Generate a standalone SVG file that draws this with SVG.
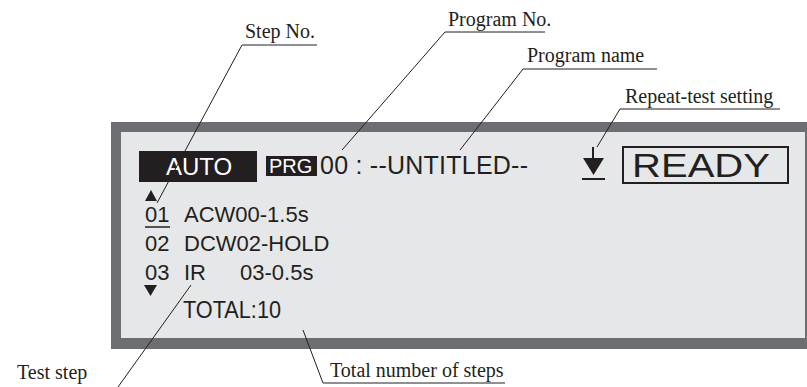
<svg xmlns="http://www.w3.org/2000/svg" width="807" height="387" viewBox="0 0 807 387">
<style>
.lbl{font-family:"Liberation Serif","Times New Roman",serif;font-size:20px;fill:#231f20}
.lcd{font-family:"Liberation Sans",Arial,sans-serif;fill:#231f20}
.inv{font-family:"Liberation Sans",Arial,sans-serif;fill:#ffffff}
.ld{stroke:#231f20;stroke-width:1;fill:none}
</style>
<rect width="807" height="387" fill="#ffffff"/>
<g id="display">
<rect x="111" y="122" width="696" height="227" fill="#6d6e71"/>
<rect x="121" y="132" width="684" height="206" fill="#e6e7e8"/>
</g>
<g id="auto">
<rect x="139" y="151" width="118" height="31" fill="#231f20"/>
<text class="inv" x="166" y="175" font-size="24">AUTO</text>
</g>
<g id="prg">
<rect x="266" y="156" width="51" height="20" fill="#231f20"/>
<text class="inv" x="269" y="173" font-size="20">PRG</text>
<text class="lcd" x="320" y="174" font-size="25" textLength="208" lengthAdjust="spacing">00 : --UNTITLED--</text>
</g>
<g id="repeat">
<line x1="593" y1="147" x2="593" y2="160" stroke="#231f20" stroke-width="2"/>
<polygon points="583,158 604,158 593.5,175" fill="#231f20"/>
<line x1="582" y1="179" x2="605" y2="179" stroke="#231f20" stroke-width="2"/>
</g>
<g id="ready">
<rect x="623" y="147" width="165" height="36" fill="none" stroke="#231f20" stroke-width="2"/>
<text class="lcd" x="632" y="177" font-size="34" textLength="138" lengthAdjust="spacingAndGlyphs">READY</text>
</g>
<g id="steps">
<polygon points="145,201 151,190 157,201" fill="#231f20"/>
<text class="lcd" x="145" y="222" font-size="22">01</text>
<line x1="145" y1="227" x2="170" y2="227" stroke="#231f20" stroke-width="1.5"/>
<text class="lcd" x="184" y="222" font-size="22">ACW00-1.5s</text>
<text class="lcd" x="145" y="251" font-size="22">02</text>
<text class="lcd" x="184" y="251" font-size="22">DCW02-HOLD</text>
<text class="lcd" x="145" y="280" font-size="22">03</text>
<text class="lcd" x="184" y="280" font-size="22">IR</text>
<text class="lcd" x="240" y="280" font-size="22">03-0.5s</text>
<polygon points="144,285 157,285 150.5,296" fill="#231f20"/>
</g>
<g id="total">
<text class="lcd" x="183" y="318" font-size="24" textLength="98" lengthAdjust="spacingAndGlyphs">TOTAL:10</text>
</g>
<g id="labels">
<text class="lbl" x="245" y="38">Step No.</text>
<text class="lbl" x="448" y="26">Program No.</text>
<text class="lbl" x="527" y="62">Program name</text>
<text class="lbl" x="625" y="103">Repeat-test setting</text>
<text class="lbl" x="17" y="379">Test step</text>
<text class="lbl" x="330" y="377">Total number of steps</text>
</g>
<g id="connectors">
<polyline class="ld" points="317,45 242,45 157,203"/>
<polyline class="ld" points="545,32 445,32 342,150"/>
<polyline class="ld" points="657,69 523,69 460,150"/>
<polyline class="ld" points="780,109 620,109 597,147"/>
<line class="ld" x1="191" y1="285" x2="118" y2="387"/>
<polyline class="ld" points="303,330 323,383 505,383"/>
</g>
</svg>
